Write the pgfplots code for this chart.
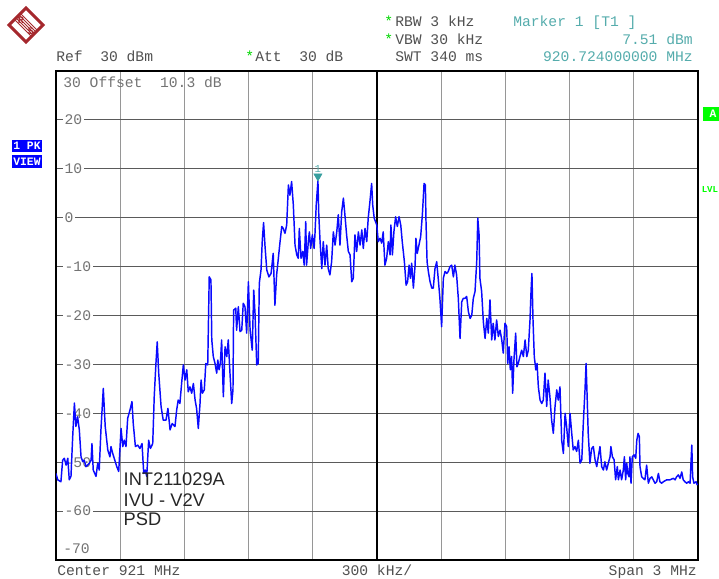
\documentclass[border=0pt]{standalone}
\usepackage{pgfplots}
\pgfplotsset{compat=1.18}
\usepackage{fontspec}
\setmonofont{Liberation Mono}
\newfontfamily\arial{Liberation Sans}
\definecolor{trace}{RGB}{10,10,255}
\definecolor{mk}{RGB}{55,158,158}
\definecolor{mktext}{RGB}{85,172,172}
\definecolor{hdr}{RGB}{80,80,80}
\definecolor{lab}{RGB}{115,115,115}
\definecolor{gridh}{RGB}{90,90,90}
\definecolor{gridv}{RGB}{150,150,150}
\definecolor{rsred}{RGB}{165,40,45}
\definecolor{stargreen}{RGB}{0,215,0}
\definecolor{boxgreen}{RGB}{0,255,0}
\definecolor{boxblue}{RGB}{0,0,255}
\newcommand{\mono}{\fontsize{11}{11}\selectfont\ttfamily}
\begin{document}
\begin{tikzpicture}[x=0.75pt,y=0.75pt]
\path (0,0) rectangle (719,578);
% R&S logo
\begin{scope}[shift={(26,553)}]
\draw[rsred, line width=2.2pt, line join=miter] (0,17) -- (17,0) -- (0,-17) -- (-17,0) -- cycle;
\foreach \d in {-3,-1.5,0,1.5,3} {\draw[rsred, line width=0.6pt] ([shift={(\d,\d)}]-8,8) -- ([shift={(\d,\d)}]8,-8);}
\node[rsred, font=\fontsize{7.5}{7.5}\selectfont\ttfamily\bfseries, inner sep=0] at (-5,5) {R};
\node[rsred, font=\fontsize{7.5}{7.5}\selectfont\ttfamily\bfseries, inner sep=0] at (5,-6) {S};
\end{scope}
% header texts
\node[hdr, font=\mono, anchor=base west, inner sep=0] at (56,516.3) {Ref\ \ 30 dBm};
\node[stargreen, font=\mono, anchor=base west, inner sep=0] at (245,516.3) {*};
\node[hdr, font=\mono, anchor=base west, inner sep=0] at (255,516.3) {Att\ \ 30 dB};
\node[stargreen, font=\mono, anchor=base west, inner sep=0] at (384,551.5) {*};
\node[hdr, font=\mono, anchor=base west, inner sep=0] at (395,551.5) {RBW 3 kHz};
\node[stargreen, font=\mono, anchor=base west, inner sep=0] at (384,533.7) {*};
\node[hdr, font=\mono, anchor=base west, inner sep=0] at (395,533.7) {VBW 30 kHz};
\node[hdr, font=\mono, anchor=base west, inner sep=0] at (395,516.3) {SWT 340 ms};
\node[mktext, font=\mono, anchor=base west, inner sep=0] at (513,551.5) {Marker 1 [T1 ]};
\node[mktext, font=\mono, anchor=base east, inner sep=0] at (693,533.7) {7.51 dBm};
\node[mktext, font=\mono, anchor=base east, inner sep=0] at (693,516.3) {920.724000000 MHz};
% footer texts
\node[hdr, font=\mono, anchor=base west, inner sep=0] at (57,2.5) {Center 921 MHz};
\node[hdr, font=\mono, anchor=base, inner sep=0] at (377,2.5) {300 kHz/};
\node[hdr, font=\mono, anchor=base east, inner sep=0] at (697,2.5) {Span 3 MHz};
% side boxes
\fill[boxblue] (11.5,425.5) rectangle (42,438);
\fill[boxblue] (11.5,409.5) rectangle (42,422.5);
\node[white, font=\fontsize{8.5}{8.5}\selectfont\ttfamily\bfseries, inner sep=0] at (27,431.8) {1 PK};
\node[white, font=\fontsize{8.5}{8.5}\selectfont\ttfamily\bfseries, inner sep=0] at (27,416) {VIEW};
\fill[boxgreen, overlay] (702.5,457) rectangle (722,471);
\node[white, overlay, font=\fontsize{8.5}{8.5}\selectfont\ttfamily\bfseries, inner sep=0] at (713,464) {A};
\node[boxgreen, font=\fontsize{6.8}{6.8}\selectfont\ttfamily\bfseries, anchor=west, inner sep=0] at (701.5,388.5) {LVL};
\begin{axis}[
  at={(42pt,13.5pt)}, anchor=south west,
  scale only axis, width=481.5pt, height=366.75pt,
  xmin=-1500, xmax=1500, ymin=-70, ymax=30,
  xtick={-1200,-900,-600,-300,300,600,900,1200},
  ytick={-60,-50,-40,-30,-20,-10,0,10,20},
  xticklabels={}, yticklabels={},
  tick label style={inner sep=0pt},
  tick style={draw=none},
  grid=major,
  x grid style={color=gridv, line width=0.8pt},
  y grid style={color=gridh, line width=0.8pt},
  axis line style={black, line width=1.5pt},
  set layers,
]
\draw[black, line width=1.7pt] (axis cs:0,-70) -- (axis cs:0,30);
\foreach \v in {20,10,0,-10,-20,-30,-40,-50,-60} {
  \edef\tmp{\noexpand\node[fill=white, text=lab, font=\noexpand\mono, anchor=west, inner xsep=1.5pt, inner ysep=0.5pt] at (axis cs:-1470,\v) {\v};}
  \tmp
}
\node[text=lab, font=\mono, anchor=base west, inner sep=0] at (axis cs:-1467,26.7) {30 Offset\ \ 10.3 dB};
\node[text=lab, font=\mono, anchor=base west, inner sep=0] at (axis cs:-1467,-68.6) {-70};
\addplot[trace, line width=1.1pt, line join=round] table {
-1500 -52.3
-1492 -53.6
-1477 -54.0
-1469 -49.6
-1461 -49.2
-1453 -50.6
-1445 -49.2
-1438 -53.6
-1430 -52.9
-1422 -44.8
-1414 -37.9
-1407 -42.7
-1399 -40.7
-1391 -43.4
-1383 -48.9
-1375 -49.9
-1368 -49.6
-1360 -50.9
-1344 -50.2
-1336 -49.6
-1332 -46.2
-1326 -51.6
-1313 -52.9
-1305 -50.2
-1298 -51.6
-1290 -43.4
-1279 -34.9
-1270 -42.7
-1258 -47.5
-1248 -48.9
-1243 -46.8
-1235 -48.2
-1228 -49.2
-1216 -50.9
-1207 -51.9
-1196 -43.1
-1188 -46.8
-1181 -45.5
-1173 -46.8
-1165 -41.0
-1154 -39.3
-1145 -37.6
-1139 -42.1
-1129 -46.8
-1118 -46.5
-1108 -47.2
-1098 -46.2
-1090 -52.3
-1083 -51.6
-1076 -52.9
-1067 -45.5
-1059 -47.2
-1048 -46.2
-1041 -36.6
-1033 -29.8
-1027 -25.4
-1020 -31.8
-1009 -38.6
-999 -41.4
-986 -41.4
-977 -39.0
-967 -43.4
-957 -42.1
-944 -42.7
-936 -39.3
-929 -37.3
-921 -38.0
-913 -33.9
-905 -30.1
-897 -33.2
-889 -31.1
-882 -35.6
-874 -34.6
-866 -35.9
-858 -33.9
-850 -37.3
-843 -39.0
-835 -43.1
-827 -38.0
-822 -33.2
-816 -35.9
-807 -35.2
-800 -29.8
-791 -30.1
-784 -12.1
-776 -12.7
-772 -25.0
-765 -28.4
-757 -29.8
-749 -31.8
-744 -29.1
-738 -31.1
-732 -29.8
-726 -25.0
-718 -36.6
-710 -26.4
-702 -28.4
-695 -25.0
-687 -31.8
-679 -38.0
-673 -35.2
-670 -18.9
-660 -18.5
-656 -23.0
-648 -18.2
-640 -23.3
-632 -23.0
-625 -17.5
-617 -18.2
-609 -23.6
-601 -13.1
-593 -23.0
-583 -27.1
-576 -14.8
-570 -19.6
-562 -30.1
-555 -29.8
-550 -13.4
-542 -10.7
-536 -4.6
-530 -1.0
-523 -6.0
-515 -10.7
-505 -12.1
-495 -11.4
-485 -7.3
-477 -17.9
-469 -11.7
-461 -8.3
-453 -4.9
-445 -1.8
-438 -2.2
-430 -3.2
-422 -1.5
-414 6.7
-407 4.6
-399 7.4
-391 2.6
-383 -5.6
-375 -7.6
-368 -8.3
-363 -2.2
-355 -8.3
-347 -6.9
-340 -9.7
-333 -0.8
-329 -9.7
-321 -4.9
-316 -2.9
-310 -6.3
-302 -3.5
-294 -6.3
-290 -3.5
-284 2.6
-276 7.51
-272 0.6
-266 -4.9
-258 -10.4
-251 -4.9
-243 -9.7
-235 -5.6
-228 -10.4
-220 -11.7
-212 -9.0
-204 -2.9
-196 -5.6
-188 -2.9
-181 0.6
-173 -5.6
-165 1.2
-157 4.0
-150 0.6
-142 -3.5
-134 -6.9
-126 -7.6
-118 -13.1
-111 -12.4
-103 -3.5
-95 -6.9
-87 -2.9
-79 -5.6
-71 -2.5
-64 -6.3
-56 -2.2
-48 -4.9
-41 -0.1
-33 3.3
-25 7.0
-20 2.6
-13 -0.1
-1 -1.5
6 -4.9
14 -4.2
22 -5.2
29 -2.9
37 -9.7
45 -8.3
53 -4.9
61 -7.6
65 -1.5
72 -7.6
79 -2.9
87 0.2
95 -1.8
103 0.2
111 -1.5
118 -4.9
128 -9.0
136 -13.8
143 -13.1
150 -9.7
156 -12.4
162 -9.3
170 -14.4
178 -9.7
182 -4.2
188 -7.3
196 -5.6
204 -3.9
212 0.6
220 7.0
226 6.7
229 -0.8
234 -9.0
240 -11.0
248 -13.1
256 -14.4
263 -14.4
271 -10.4
279 -9.0
286 -12.4
294 -16.5
302 -22.3
310 -12.4
318 -11.0
326 -11.4
333 -11.0
341 -10.0
349 -9.7
357 -12.1
364 -9.7
372 -11.7
380 -16.5
388 -24.7
396 -17.2
403 -16.5
411 -16.5
419 -16.1
427 -19.2
435 -20.6
443 -19.9
450 -16.5
458 -15.1
466 -9.0
471 -0.1
477 -3.5
481 -12.4
489 -15.1
497 -21.3
505 -24.7
513 -20.6
520 -23.6
528 -16.8
536 -25.0
543 -21.6
551 -25.0
559 -20.9
567 -24.3
575 -23.0
583 -25.0
590 -27.7
598 -21.6
606 -22.3
611 -29.8
617 -26.4
623 -31.1
629 -28.4
634 -35.9
640 -29.1
648 -23.6
654 -30.5
660 -29.8
668 -28.4
676 -27.1
684 -28.4
692 -25.0
700 -28.4
707 -27.1
715 -20.9
720 -14.8
724 -11.4
729 -20.9
735 -28.4
742 -31.1
748 -29.8
754 -34.6
762 -37.3
770 -38.0
777 -37.3
785 -31.8
793 -38.6
800 -33.2
808 -36.6
816 -41.4
824 -44.1
832 -38.6
840 -35.2
847 -37.3
855 -34.6
863 -45.5
871 -48.2
879 -40.0
886 -42.7
894 -46.8
902 -40.0
910 -44.1
917 -47.5
925 -46.8
933 -47.8
941 -45.5
949 -50.2
957 -49.5
964 -42.1
972 -35.2
977 -29.8
981 -35.2
987 -44.1
995 -50.2
1003 -47.2
1011 -46.8
1019 -49.5
1027 -50.9
1034 -48.9
1042 -46.8
1050 -50.9
1058 -51.6
1065 -49.9
1073 -51.6
1081 -50.2
1089 -48.9
1093 -46.8
1100 -48.9
1108 -49.5
1115 -53.6
1123 -50.9
1128 -53.6
1136 -51.6
1143 -53.6
1151 -51.6
1156 -48.9
1162 -53.6
1167 -50.2
1172 -52.3
1178 -53.0
1182 -48.9
1187 -54.3
1193 -48.9
1201 -48.5
1209 -49.2
1214 -45.5
1220 -44.1
1226 -44.8
1229 -50.9
1237 -53.0
1244 -53.3
1252 -53.6
1260 -50.6
1268 -54.3
1276 -53.3
1284 -53.0
1291 -53.6
1299 -54.3
1307 -54.0
1315 -52.3
1322 -54.0
1330 -54.3
1338 -54.0
1354 -53.6
1369 -53.6
1385 -53.3
1393 -53.6
1400 -53.0
1408 -52.6
1416 -53.3
1424 -52.0
1431 -53.6
1439 -54.0
1447 -54.3
1455 -54.0
1463 -54.3
1471 -46.5
1475 -53.0
1481 -54.3
1491 -54.0
1497 -54.7
};
\addplot[only marks, mark=triangle*, mark size=3.5pt, mark options={yshift=3.5pt, rotate=180, fill=mk, draw=mk}] coordinates {(-276,7.51)};
\node[text=mktext, font=\fontsize{8}{8}\selectfont\ttfamily, anchor=south, inner sep=0, yshift=6.5pt] at (axis cs:-276,7.51) {1};
\node[text=black!85, font=\arial\fontsize{13.7}{15.5}\selectfont, anchor=base west, inner sep=0] at (axis cs:-1185,-54.7) {INT211029A};
\node[text=black!85, font=\arial\fontsize{13.7}{15.5}\selectfont, anchor=base west, inner sep=0] at (axis cs:-1185,-59.0) {IVU - V2V};
\node[text=black!85, font=\arial\fontsize{13.7}{15.5}\selectfont, anchor=base west, inner sep=0] at (axis cs:-1185,-63.0) {PSD};
\end{axis}
\end{tikzpicture}
\end{document}
